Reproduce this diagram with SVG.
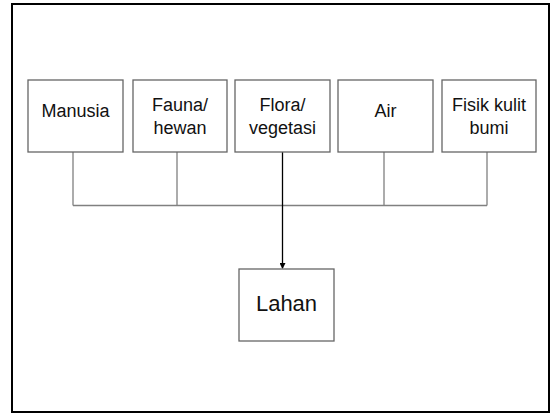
<svg xmlns="http://www.w3.org/2000/svg" width="550" height="414" viewBox="0 0 550 414">
<style>
.box{fill:#fff;stroke:#666;stroke-width:1.3}
.t{font-family:"Liberation Sans",Arial,sans-serif;font-size:18px;fill:#111;text-anchor:middle}
.c{fill:none;stroke:#808080;stroke-width:1.3}
</style>
<defs>
<marker id="ah" markerWidth="6" markerHeight="6" refX="5" refY="3" orient="auto" markerUnits="userSpaceOnUse">
<path d="M0,0 L6,3 L0,6 Z" fill="#000"/>
</marker>
</defs>
<rect x="0" y="0" width="550" height="414" fill="#fff"/>
<rect x="12" y="4" width="537" height="408" fill="none" stroke="#000" stroke-width="2"/>
<g id="connectors">
<path class="c" d="M73,152 V205.5 M177,152 V205.5 M384,152 V205.5 M487,152 V205.5 M73,205.5 H487"/>
<path d="M282.5,152 V268" fill="none" stroke="#000" stroke-width="1.3" marker-end="url(#ah)"/>
</g>
<g id="manusia"><rect class="box" x="28" y="80" width="95" height="72"/><text class="t" x="75.5" y="117">Manusia</text></g>
<g id="fauna"><rect class="box" x="133" y="80" width="94" height="72"/><text class="t" x="180" y="111">Fauna/</text><text class="t" x="180" y="134">hewan</text></g>
<g id="flora"><rect class="box" x="235" y="80" width="95" height="72"/><text class="t" x="282.5" y="111">Flora/</text><text class="t" x="282.5" y="134">vegetasi</text></g>
<g id="air"><rect class="box" x="338" y="80" width="95" height="72"/><text class="t" x="385.5" y="117">Air</text></g>
<g id="fisik"><rect class="box" x="442" y="80" width="94" height="72"/><text class="t" x="489" y="111">Fisik kulit</text><text class="t" x="489" y="134">bumi</text></g>
<g id="lahan"><rect class="box" x="239" y="269" width="95" height="72"/><text class="t" x="286.5" y="311" style="font-size:22px">Lahan</text></g>
</svg>
